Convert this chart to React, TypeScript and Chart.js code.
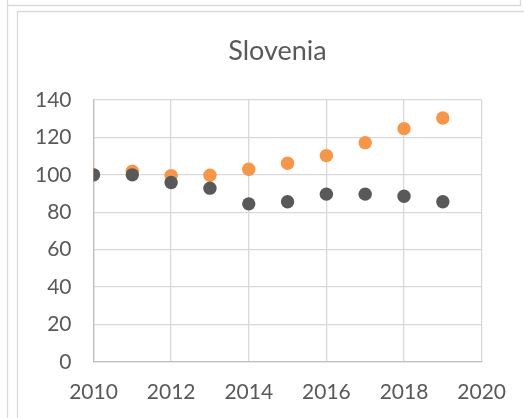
import React, { useEffect, useRef } from "react";
import { Chart, registerables } from "chart.js";

Chart.register(...registerables);

const title = "Slovenia";
const years = [2010, 2011, 2012, 2013, 2014, 2015, 2016, 2017, 2018, 2019];
const seriesOrange = [100, 102, 99.6, 99.8, 103, 106.2, 110.3, 117.2, 124.7, 130.4];
const seriesGray = [100, 100, 95.9, 92.9, 84.5, 85.6, 89.7, 89.7, 88.6, 85.6];
const xMin = 2010;
const xMax = 2020;
const xStep = 2;
const yMin = 0;
const yMax = 140;
const yStep = 20;

const FONT = "Lato, 'Open Sans', sans-serif";
const TEXT = "#595959";
const GRID = "#d9d9d9";

const framePlugin = {
  id: "frames",
  beforeDraw(chart: any) {
    const ctx = chart.ctx;
    ctx.save();
    ctx.strokeStyle = GRID;
    ctx.lineWidth = 1.3;
    ctx.beginPath();
    ctx.moveTo(7.5, 0);
    ctx.lineTo(7.5, 418);
    ctx.moveTo(7.5, 5.5);
    ctx.lineTo(520.5, 5.5);
    ctx.lineTo(520.5, 0);
    ctx.moveTo(524, 11.5);
    ctx.lineTo(17.5, 11.5);
    ctx.lineTo(17.5, 418);
    ctx.stroke();
    ctx.restore();
  },
  afterDraw(chart: any) {
    const ctx = chart.ctx;
    ctx.save();
    ctx.fillStyle = TEXT;
    ctx.font = `27px ${FONT}`;
    ctx.textAlign = "center";
    ctx.textBaseline = "alphabetic";
    ctx.fillText(title, 277.5, 59.5);
    ctx.restore();
  },
};

export default function App() {
  const ref = useRef<HTMLCanvasElement | null>(null);

  useEffect(() => {
    if (!ref.current) return;
    const chart = new Chart(ref.current, {
      type: "scatter",
      data: {
        datasets: [
          {
            label: "Series 2",
            data: years.map((x, i) => ({ x, y: seriesGray[i] })),
            backgroundColor: "#595959",
            borderColor: "#595959",
            pointRadius: 6.7,
            pointHoverRadius: 6.7,
            borderWidth: 0,
          },
          {
            label: "Series 1",
            data: years.map((x, i) => ({ x, y: seriesOrange[i] })),
            backgroundColor: "#f79646",
            borderColor: "#f79646",
            pointRadius: 6.7,
            pointHoverRadius: 6.7,
            borderWidth: 0,
          },
        ],
      },
      options: {
        responsive: false,
        animation: false,
        devicePixelRatio: 1,
        layout: { padding: { left: 0, right: 40, top: 0, bottom: 0 } },
        plugins: {
          legend: { display: false },
          tooltip: { enabled: false },
          title: {
            display: true,
            text: " ",
            color: "rgba(0,0,0,0)",
            font: { family: FONT, size: 25, weight: "normal", lineHeight: 1.2 },
            padding: { top: 35, bottom: 35 },
          },
        },
        scales: {
          x: {
            type: "linear",
            min: xMin,
            max: xMax,
            ticks: {
              stepSize: xStep,
              color: TEXT,
              font: { family: FONT, size: 21 },
              padding: 18,
              maxRotation: 0,
              callback: (v: any) => String(v),
            },
            grid: { color: GRID, lineWidth: 1.3, drawTicks: false },
            border: { color: "#bfbfbf", width: 1.3 },
            afterFit: (s: any) => {
              s.height = 418 - 362;
            },
          },
          y: {
            min: yMin,
            max: yMax,
            ticks: {
              stepSize: yStep,
              color: TEXT,
              font: { family: FONT, size: 21 },
              padding: 22,
            },
            grid: { color: GRID, lineWidth: 1.3, drawTicks: false },
            border: { color: "#bfbfbf", width: 1.3 },
            afterFit: (s: any) => {
              s.width = 93.5;
            },
          },
        },
      },
      plugins: [framePlugin],
    });
    return () => chart.destroy();
  }, []);

  return (
    <div style={{ position: "absolute", left: 0, top: 0, width: 524, height: 418, background: "#fff" }}>
      <canvas ref={ref} width={524} height={418} />
    </div>
  );
}
